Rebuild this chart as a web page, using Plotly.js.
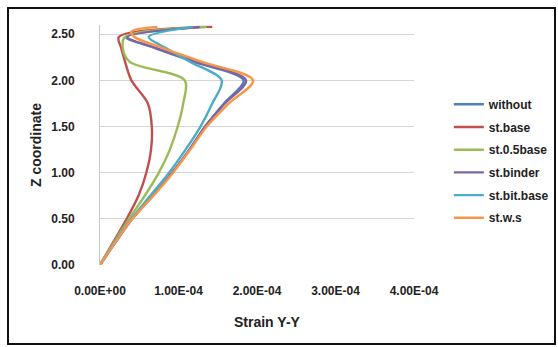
<!DOCTYPE html>
<html>
<head>
<meta charset="utf-8">
<script src="https://cdn.plot.ly/plotly-3.0.1.min.js"></script>
<style>
  html, body { margin: 0; padding: 0; background: #fff; }
  #wrap { position: relative; width: 558px; height: 347px; }
  #chart { position: absolute; left: 0; top: 0; width: 558px; height: 347px; }
  #frame {
    position: absolute; left: 7px; top: 7px; width: 549px; height: 338px;
    box-sizing: border-box; border: 2px solid #111; pointer-events: none;
  }
</style>
</head>
<body>
<div id="wrap">
  <div id="chart"></div>
  <div id="frame"></div>
</div>
<script>
// Depth (Z coordinate) of the sampled nodes
const zNodes  = [0, 0.25, 0.5, 0.75, 1.0, 1.25, 1.5, 1.75, 2.0, 2.2, 2.35, 2.47, 2.58];
const zWs     = [0, 0.25, 0.5, 0.75, 1.0, 1.25, 1.5, 1.75, 2.0, 2.2, 2.35, 2.47, 2.53, 2.58];

// Strain Y-Y for each case
const without   = [0, 2.0e-5, 4.1e-5, 6.7e-5, 9.2e-5, 1.14e-4, 1.34e-4, 1.58e-4, 1.83e-4, 1.20e-4, 7.0e-5, 3.3e-5, 1.31e-4];
const stBase    = [0, 1.7e-5, 3.4e-5, 4.9e-5, 5.9e-5, 6.5e-5, 6.6e-5, 6.1e-5, 4.0e-5, 3.2e-5, 2.7e-5, 2.4e-5, 1.43e-4];
const stHalfBase= [0, 1.8e-5, 3.7e-5, 5.7e-5, 7.5e-5, 8.9e-5, 9.9e-5, 1.06e-4, 1.08e-4, 3.8e-5, 2.9e-5, 3.2e-5, 1.36e-4];
const stBinder  = [0, 2.0e-5, 4.1e-5, 6.7e-5, 9.2e-5, 1.14e-4, 1.34e-4, 1.59e-4, 1.86e-4, 1.22e-4, 7.2e-5, 3.5e-5, 1.27e-4];
const stBitBase = [0, 1.9e-5, 4.0e-5, 6.4e-5, 8.8e-5, 1.09e-4, 1.28e-4, 1.43e-4, 1.55e-4, 1.15e-4, 8.4e-5, 6.2e-5, 1.18e-4];
const stWs      = [0, 2.0e-5, 4.1e-5, 6.8e-5, 9.3e-5, 1.15e-4, 1.36e-4, 1.64e-4, 1.95e-4, 1.30e-4, 8.0e-5, 4.4e-5, 4.0e-5, 7.3e-5];

const seriesNames = ['without', 'st.base', 'st.0.5base', 'st.binder', 'st.bit.base', 'st.w.s'];
const seriesX = [without, stBase, stHalfBase, stBinder, stBitBase, stWs];
const seriesZ = [zNodes, zNodes, zNodes, zNodes, zNodes, zWs];
const seriesColors = ['#4F81BD', '#C0504D', '#9BBB59', '#8064A2', '#4BACC6', '#F79646'];

const xTickVals = [0, 1e-4, 2e-4, 3e-4, 4e-4];
const xTickText = ['0.00E+00', '1.00E-04', '2.00E-04', '3.00E-04', '4.00E-04'];
const yTickVals = [0, 0.5, 1.0, 1.5, 2.0, 2.5];
const yTickText = ['0.00', '0.50', '1.00', '1.50', '2.00', '2.50'];

const FONT = '"Liberation Sans", Arial, sans-serif';

const traces = seriesNames.map((name, i) => ({
  type: 'scatter',
  mode: 'lines',
  name: name,
  legendgroup: name,
  x: seriesX[i],
  y: seriesZ[i],
  line: { color: seriesColors[i], width: 2.4, shape: 'spline', smoothing: 0.9 }
}));

const layout = {
  width: 558,
  height: 347,
  margin: { l: 100, r: 144, t: 25, b: 82, autoexpand: false },
  paper_bgcolor: '#fff',
  plot_bgcolor: '#fff',
  showlegend: true,
  font: { family: FONT, color: '#222', size: 12 },
  xaxis: {
    range: [0, 4e-4],
    tickvals: xTickVals,
    ticktext: xTickText,
    showgrid: false,
    zeroline: false,
    showline: false,
    ticks: '',
    ticklabelstandoff: 17,
    tickfont: { family: FONT, size: 12, color: '#222', weight: 'bold' },
    automargin: false,
    fixedrange: true
  },
  yaxis: {
    range: [0, 2.6],
    tickvals: yTickVals,
    ticktext: yTickText,
    showgrid: true,
    gridcolor: '#d4d4d4',
    gridwidth: 1,
    zeroline: false,
    showline: true,
    linecolor: '#c8c8c8',
    linewidth: 1,
    ticks: '',
    ticklabelstandoff: 22,
    tickfont: { family: FONT, size: 12, color: '#222', weight: 'bold' },
    title: { text: '<b>Z coordinate</b>', font: { family: FONT, size: 14, color: '#222' }, standoff: 6 },
    automargin: false,
    fixedrange: true
  },
  annotations: [{
    text: '<b>Strain Y-Y</b>',
    xref: 'paper', yref: 'paper',
    x: 0.535, y: -0.2375,
    xanchor: 'center', yanchor: 'middle',
    showarrow: false,
    font: { family: FONT, size: 14, color: '#222' }
  }],
  legend: {
    x: 1.111,
    xanchor: 'left',
    y: 0.73,
    yanchor: 'top',
    traceorder: 'grouped',
    tracegroupgap: 3.7,
    font: { family: FONT, size: 12, color: '#222', weight: 'bold' },
    bgcolor: 'rgba(0,0,0,0)',
    borderwidth: 0
  }
};

Plotly.newPlot('chart', traces, layout, { displayModeBar: false, staticPlot: true });
</script>
</body>
</html>
